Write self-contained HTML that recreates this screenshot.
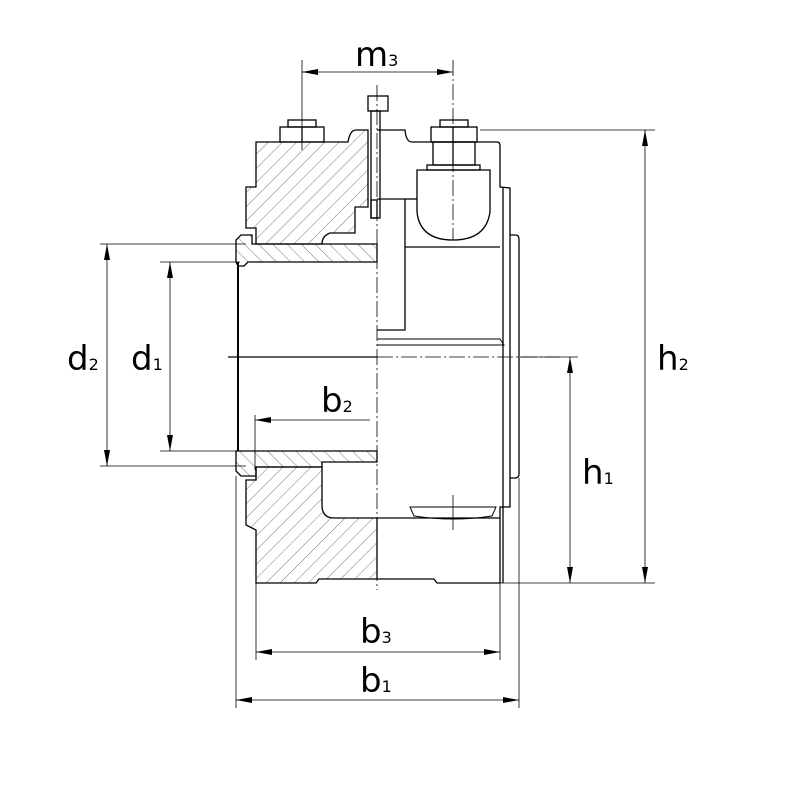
<!DOCTYPE html>
<html><head><style>html,body{margin:0;padding:0;background:#fff}svg{display:block}
text{font-family:"DejaVu Sans","Liberation Sans",sans-serif;fill:#000}</style></head>
<body>
<svg width="800" height="800" viewBox="0 0 800 800" xmlns="http://www.w3.org/2000/svg">
<defs>
<pattern id="h1" patternUnits="userSpaceOnUse" width="10" height="10" patternTransform="rotate(45)">
<line x1="0" y1="0" x2="0" y2="10" stroke="#555" stroke-width="0.8"/></pattern>
<pattern id="h2" patternUnits="userSpaceOnUse" width="10" height="10" patternTransform="rotate(-45)">
<line x1="0" y1="0" x2="0" y2="10" stroke="#555" stroke-width="0.8"/></pattern>
<marker id="ar" viewBox="0 0 16 6" refX="16" refY="3" markerWidth="16" markerHeight="6" orient="auto-start-reverse" markerUnits="userSpaceOnUse"><path d="M0,0 L16,3 L0,6z" fill="#000"/></marker>
</defs>
<g fill="none" stroke="#000" stroke-width="1.3">
<path d="M256,142 L348,142 Q350,130 356,130 L368,130 L368,207 L355,207 L355,233 L330,233 Q322,236 322,244 L256,244 L256,228 L246,228 L246,187 L256,187 Z" fill="url(#h1)"/>
<path d="M241,235 L252,235 L252,244 L377,244 L377,262 L248,262 L244,266 L238,266 L236,262 L236,240 Z" fill="url(#h2)"/>
<path d="M236,451 L377,451 L377,462 L322,462 L322,467 L256,467 L256,476 L241,476 L236,471 Z" fill="url(#h2)"/>
<path d="M256,467 L322,467 L322,505 Q322,518 334,518 L377,518 L377,579 L319,579 L316,583 L256,583 L256,530 L246,525 L246,480 L256,480 Z" fill="url(#h1)"/>
<path d="M377,130 L405,130 Q406,142 412,142 L497,142 Q500,142 500,146 L500,187 L510,188 L510,507 L500,507 L500,583 L437,583 L434,579 L377,579"/>
<path d="M510,235 L516,235 Q519,235 519,240 L519,474 Q519,478 515,478 L510,478"/>
<line x1="503" y1="187" x2="503" y2="583"/>
<path d="M377,199 L405,199 L405,330 L377,330"/>
<line x1="405" y1="247" x2="500" y2="247"/>
<line x1="405" y1="199" x2="417" y2="199"/>
<path d="M377,339 L500,339 L504,345 L377,345" stroke-width="1"/>
<line x1="377" y1="518" x2="500" y2="518"/>
<line x1="238" y1="262" x2="238" y2="451" stroke-width="2"/>
<line x1="228" y1="357" x2="377" y2="357"/>
<path d="M417,170 L490,170 L490,212 Q486,240 453,240 Q420,240 417,212 Z"/>
<rect x="427" y="165" width="53" height="5"/>
<rect x="433" y="142" width="42" height="23"/>
<rect x="431" y="127" width="46" height="15"/>
<rect x="440" y="120" width="28" height="7"/>
<line x1="453" y1="127" x2="453" y2="165"/>
<rect x="280" y="127" width="44" height="15"/>
<rect x="288" y="120" width="28" height="7"/>
<line x1="302" y1="127" x2="302" y2="142"/>
<rect x="368" y="96" width="20" height="15"/>
<rect x="371" y="111" width="9" height="107"/>
<rect x="371" y="200" width="6" height="18"/>
<path d="M410,507 L496,507 L492,516 Q453,522 414,516 Z" stroke-width="1"/>
</g>
<g stroke="#000" stroke-width="0.8" fill="none">
<line x1="377" y1="85" x2="377" y2="590" stroke-dasharray="16,3,2,3"/>
<line x1="377" y1="357" x2="560" y2="357" stroke-dasharray="16,3,2,3"/>
<line x1="453" y1="60" x2="453" y2="240" stroke-dasharray="16,3,2,3"/>
<line x1="453" y1="495" x2="453" y2="530"/>
<line x1="302" y1="60" x2="302" y2="150"/>
<line x1="480" y1="130" x2="655" y2="130"/>
<line x1="500" y1="583" x2="655" y2="583"/>
<line x1="520" y1="357" x2="578" y2="357"/>
<line x1="100" y1="244" x2="246" y2="244"/>
<line x1="100" y1="466" x2="246" y2="466"/>
<line x1="160" y1="262" x2="240" y2="262"/>
<line x1="160" y1="451" x2="240" y2="451"/>
<line x1="256" y1="583" x2="256" y2="660"/>
<line x1="500" y1="583" x2="500" y2="660"/>
<line x1="236" y1="476" x2="236" y2="708"/>
<line x1="519" y1="478" x2="519" y2="708"/>
<line x1="255" y1="415" x2="255" y2="470"/>
<line x1="302" y1="72" x2="453" y2="72" marker-start="url(#ar)" marker-end="url(#ar)"/>
<line x1="645" y1="130" x2="645" y2="583" marker-start="url(#ar)" marker-end="url(#ar)"/>
<line x1="570" y1="357" x2="570" y2="583" marker-start="url(#ar)" marker-end="url(#ar)"/>
<line x1="107" y1="244" x2="107" y2="466" marker-start="url(#ar)" marker-end="url(#ar)"/>
<line x1="170" y1="262" x2="170" y2="451" marker-start="url(#ar)" marker-end="url(#ar)"/>
<line x1="370" y1="420" x2="255" y2="420" marker-end="url(#ar)"/>
<line x1="256" y1="652" x2="500" y2="652" marker-start="url(#ar)" marker-end="url(#ar)"/>
<line x1="236" y1="700" x2="519" y2="700" marker-start="url(#ar)" marker-end="url(#ar)"/>
</g>
<g font-size="34">
<text x="355" y="66">m<tspan font-size="16">3</tspan></text>
<text x="657" y="370">h<tspan font-size="16">2</tspan></text>
<text x="582" y="484">h<tspan font-size="16">1</tspan></text>
<text x="67" y="370">d<tspan font-size="16">2</tspan></text>
<text x="131" y="370">d<tspan font-size="16">1</tspan></text>
<text x="321" y="412">b<tspan font-size="16">2</tspan></text>
<text x="360" y="643">b<tspan font-size="16">3</tspan></text>
<text x="360" y="692">b<tspan font-size="16">1</tspan></text>
</g>
</svg>
</body></html>
